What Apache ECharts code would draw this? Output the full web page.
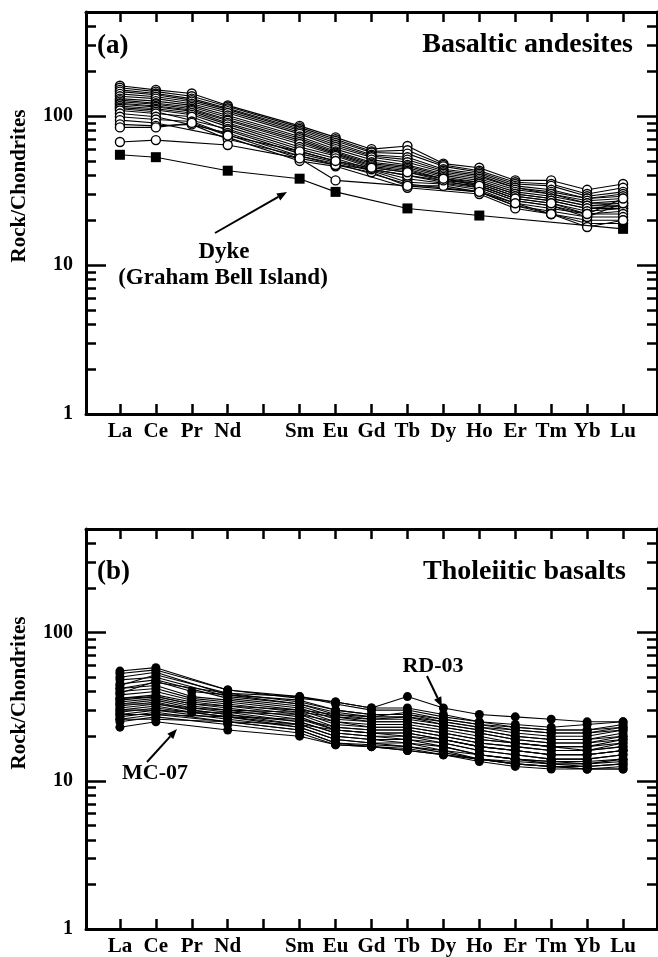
<!DOCTYPE html>
<html>
<head>
<meta charset="utf-8">
<script src="https://cdn.jsdelivr.net/npm/echarts@6/dist/echarts.min.js"></script>
<style>
html,body{margin:0;padding:0;background:#fff;}
#chart{width:658px;height:957px;}
</style>
</head>
<body>
<div id="chart"></div>
<script>
// REE element labels (Pm position left blank)
const elements = ['La','Ce','Pr','Nd','','Sm','Eu','Gd','Tb','Dy','Ho','Er','Tm','Yb','Lu'];
const majorTicks = [1, 10, 100];
const minorTicks = [2,3,4,5,6,7,8,9,20,30,40,50,60,70,80,90,200,300,400,500];

// (a) Basaltic andesites: open circles, one row per sample (La..Lu, null = not analysed)
const andesites = [
  [160,150,142,118,null,86,72,60,63,48,45,37,37,32,35],
  [155,146,136,116,null,84,70,58,59,47,43,36,35,30,33],
  [150,142,131,113,null,82,68,57,56,46,42,35,34,29,31],
  [146,139,128,111,null,80,66,55,53,44,41,34,32,28,30],
  [141,135,125,108,null,78,64,54,51,43,40,33,31,28,29],
  [136,131,121,105,null,76,62,53,49,42,39,33,30,27,28],
  [131,126,118,101,null,73,60,51,47,41,38,32,30,26,27],
  [128,122,115,98,null,71,58,49,46,40,37,31,29,26,26],
  [125,120,112,95,null,69,57,48,45,39,36,30,28,25,26],
  [122,117,110,93,null,67,56,47,44,38,36,30,28,25,25],
  [120,115,108,90,null,65,55,46,43,38,35,29,27,24,25],
  [117,112,105,88,null,62,54,45,42,37,35,29,27,24,24],
  [114,110,102,85,null,60,52,44,40,36,34,28,26,23,24],
  [112,107,null,82,null,58,50,null,38,null,33,27,25,22,23],
  [109,104,99,80,null,56,49,43,36,35,32,26,24,22,22],
  [104,99,null,77,null,54,48,null,35,null,31,25,23,21,21],
  [99,95,92,75,null,52,47,42,34,34,31,25,22,20,20],
  [94,90,null,72,null,50,46,null,33,null,30,24,22,19,19],
  [88,86,88,70,null,54,47,44,40,37,33,27,25,21,26],
  [84,84,90,74,null,58,50,45,42,38,34,28,26,22,28],
  [67,69,null,64,null,52,37,null,34,null,31,26,22,18,20]
];
// Dyke (Graham Bell Island): filled squares
const dyke = [55,53,null,43,null,38,31,null,24,null,21.5,null,null,null,17.5];

// (b) Tholeiitic basalts: filled circles
const tholeiites = [
  [42,46,null,39,null,37,34,31,37,31,28,27,26,25,25],   // RD-03
  [23,25,null,22,null,20,17.5,17,16,15,14,13,12.5,12,12], // MC-07
  [55,58,null,41,null,36,34,31,31,28,25,24,23,24,25],
  [53,56,null,41,null,37,33,30,30,27,25,23,22,22,24],
  [50,54,null,38,null,35,30,28,28,26,24,22,21,21,23],
  [48,50,null,37,null,33,28,27,27,25,23,21,20,20,22],
  [45,48,null,36,null,32,27,26,26,24,22,20,19,19,21],
  [42,44,37,35,null,31,26,25,25,23,21,19,18,18,20],
  [40,42,36,34,null,30,25,24,24,22,20,18,17,17,19],
  [38,40,35,33,null,29,24,23,23,21,19,18,17,16,18],
  [36,38,34,32,null,28,23,22,22,20,18,17,16,16,17],
  [35,37,33,31,null,27,22,21,21,19,17,16,15,15,16],
  [34,36,32,30,null,26,22,21,20,19,17,16,15,15,16],
  [33,35,31,29,null,25,21,20,20,18,16,15,14,14,15],
  [32,34,30,28,null,25,21,20,19,18,16,15,14,14,15],
  [31,33,30,28,null,24,20,19,19,17,15,14,13.5,13.5,14],
  [30,32,29,27,null,24,20,19,18,17,15,14,13.5,13,14],
  [29,31,null,27,null,23,19,18,18,16,15,14,13,13,13.5],
  [28,30,null,26,null,23,19,18,17,16,14,13.5,13,12.5,13],
  [27,29,null,25,null,22,18,17.5,17,15.5,14,13,12.5,12.5,13],
  [26,28,null,25,null,22,18,17,16.5,15,14,13,12.5,12,12.5],
  [25,27,null,24,null,21,17.5,17,16,15,13.5,12.5,12,12,12],
  [36,37,33,32,null,30,28,26,27,24,22,20,19,19,20],
  [33,33,31,30,null,29,27,25,25,23,21,19,18,18,19],
  [30,30,29,29,null,28,25,23,23,21,19,18,17,17,18],
  [28,28,null,27,null,26,23,22,22,20,18,17,16,16,17],
  [26,26,null,25,null,24,22,21,21,19,17,16,15,15,16],
  [44,52,null,39,null,34,30,28,28,25,23,22,21,21,22],
  [39,47,40,38,null,33,29,27,29,26,24,23,22,22,23]
];

const FONT = 'Liberation Serif';
const idx = elements.map((_, i) => i);

function toPoints(row) {
  const pts = [];
  row.forEach((v, i) => { if (v !== null) pts.push([i, v]); });
  return pts;
}

function xAxes(grid) {
  const base = {
    type: 'value', gridIndex: grid, min: -0.944, max: 14.944,
    splitLine: {show: false},
    axisLine: {show: true, onZero: false, lineStyle: {color: '#000', width: 3}},
    axisTick: {show: true, inside: true, length: 10, customValues: idx, lineStyle: {color: '#000', width: 2.5}}
  };
  return [
    Object.assign({}, base, {position: 'bottom',
      axisLabel: {show: true, customValues: idx, formatter: v => elements[Math.round(v)] || '',
        fontFamily: FONT, fontWeight: 'bold', fontSize: 21, color: '#000', margin: 7}}),
    Object.assign({}, base, {position: 'top', axisLabel: {show: false}})
  ];
}

function yAxes(grid) {
  const base = {type: 'log', logBase: 10, gridIndex: grid, min: 1, max: 500, splitLine: {show: false}};
  const out = [];
  ['left', 'right'].forEach(pos => {
    out.push(Object.assign({}, base, {
      position: pos,
      axisLine: {show: true, onZero: false, lineStyle: {color: '#000', width: 3}},
      axisTick: {show: true, inside: true, length: 20, customValues: majorTicks, lineStyle: {color: '#000', width: 2.5}},
      axisLabel: pos === 'left'
        ? {show: true, customValues: majorTicks, fontFamily: FONT, fontWeight: 'bold', fontSize: 20, color: '#000', margin: 13}
        : {show: false}
    }));
    out.push(Object.assign({}, base, {
      position: pos,
      axisLine: {show: false, onZero: false},
      axisTick: {show: true, inside: true, length: 10, customValues: minorTicks, lineStyle: {color: '#000', width: 2.5}},
      axisLabel: {show: false}
    }));
  });
  return out;
}

const series = [];
andesites.forEach(row => series.push({
  type: 'line', xAxisIndex: 0, yAxisIndex: 0, data: toPoints(row),
  symbol: 'circle', symbolSize: 9, showSymbol: true, silent: true,
  lineStyle: {color: '#000', width: 1.1},
  itemStyle: {color: '#fff', borderColor: '#000', borderWidth: 1.4}
}));
series.push({
  type: 'line', xAxisIndex: 0, yAxisIndex: 0, data: toPoints(dyke),
  symbol: 'rect', symbolSize: 10, showSymbol: true, silent: true, z: 5,
  lineStyle: {color: '#000', width: 1.1},
  itemStyle: {color: '#000', borderColor: '#000', borderWidth: 0}
});
tholeiites.forEach(row => series.push({
  type: 'line', xAxisIndex: 2, yAxisIndex: 4, data: toPoints(row),
  symbol: 'circle', symbolSize: 9, showSymbol: true, silent: true,
  lineStyle: {color: '#000', width: 1.1},
  itemStyle: {color: '#000', borderWidth: 0}
}));

function txt(x, y, s, size, align, rot) {
  return {type: 'text', x: x, y: y, rotation: rot || 0, silent: true, z: 100,
    style: {text: s, fontFamily: FONT, fontWeight: 'bold', fontSize: size, fill: '#000',
      align: align || 'center', verticalAlign: 'middle'}};
}
function arrow(x1, y1, x2, y2) {
  const a = Math.atan2(y2 - y1, x2 - x1), L = 10, W = 4;
  const bx = x2 - L * Math.cos(a), by = y2 - L * Math.sin(a);
  return [
    {type: 'line', silent: true, z: 100, shape: {x1: x1, y1: y1, x2: bx, y2: by}, style: {stroke: '#000', lineWidth: 2}},
    {type: 'polygon', silent: true, z: 100, shape: {points: [[x2, y2],
      [bx + W * Math.sin(a), by - W * Math.cos(a)], [bx - W * Math.sin(a), by + W * Math.cos(a)]]},
      style: {fill: '#000'}}
  ];
}

const graphic = [
  txt(20, 186, 'Rock/Chondrites', 21, 'center', Math.PI / 2),
  txt(20, 693, 'Rock/Chondrites', 21, 'center', Math.PI / 2),
  txt(97, 46, '(a)', 27, 'left'),
  txt(633, 45, 'Basaltic andesites', 28, 'right'),
  txt(97, 572, '(b)', 27, 'left'),
  txt(626, 572, 'Tholeiitic basalts', 28, 'right'),
  txt(224, 252, 'Dyke', 23, 'center'),
  txt(223, 278, '(Graham Bell Island)', 23, 'center'),
  txt(433, 666, 'RD-03', 22, 'center'),
  txt(155, 773, 'MC-07', 22, 'center')
].concat(arrow(215, 233, 287, 192), arrow(427, 676, 442, 707), arrow(147, 762, 177, 729));

const chart = echarts.init(document.getElementById('chart'), null, {renderer: 'canvas'});
chart.setOption({
  animation: false,
  backgroundColor: '#fff',
  grid: [
    {left: 86, top: 12, width: 571, height: 402},
    {left: 86, top: 529, width: 571, height: 401}
  ],
  xAxis: xAxes(0).concat(xAxes(1)),
  yAxis: yAxes(0).concat(yAxes(1)),
  series: series,
  graphic: graphic
});
</script>
</body>
</html>
